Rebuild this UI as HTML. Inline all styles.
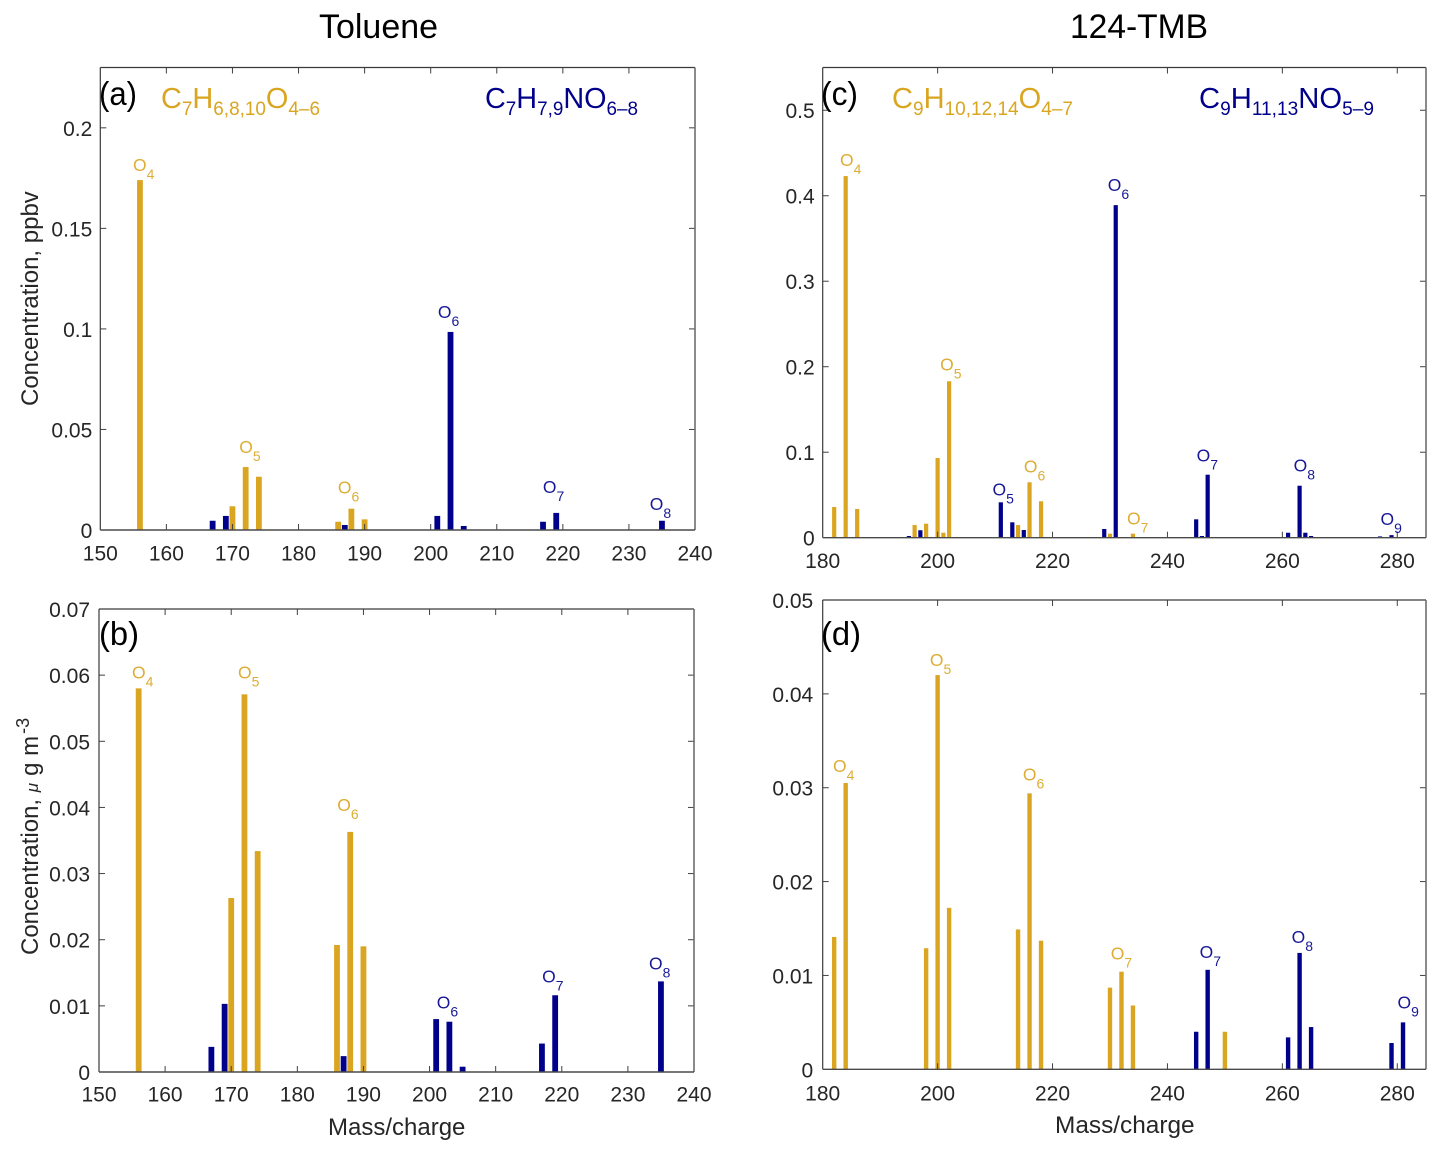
<!DOCTYPE html>
<html lang="en">
<head>
<meta charset="utf-8">
<title>Toluene and 124-TMB mass spectra</title>
<style>
html,body{margin:0;padding:0;background:#fff;width:1440px;height:1154px;overflow:hidden}
svg{display:block}
text{font-family:"Liberation Sans",sans-serif}
</style>
</head>
<body>
<svg id="figure" xmlns="http://www.w3.org/2000/svg" width="1440" height="1154" viewBox="0 0 1440 1154">
  <rect x="0" y="0" width="1440" height="1154" fill="#fff"/>
  <text x="319" y="38" font-size="34" fill="#000" textLength="119" lengthAdjust="spacingAndGlyphs">Toluene</text>
  <text x="1070" y="38" font-size="34" fill="#000" textLength="138" lengthAdjust="spacingAndGlyphs">124-TMB</text>

  <g id="panel-a"></g>
  <g id="panel-b"></g>
  <g id="panel-c"></g>
  <g id="panel-d"></g>

  <text x="99" y="105" font-size="33" fill="#000" textLength="38" lengthAdjust="spacingAndGlyphs">(a)</text>
  <text x="99" y="645" font-size="33" fill="#000" textLength="40" lengthAdjust="spacingAndGlyphs">(b)</text>
  <text x="821" y="105" font-size="33" fill="#000" textLength="37" lengthAdjust="spacingAndGlyphs">(c)</text>
  <text x="821" y="645" font-size="33" fill="#000" textLength="40" lengthAdjust="spacingAndGlyphs">(d)</text>

  <text x="161" y="108" font-size="29" fill="#DAA520" textLength="159" lengthAdjust="spacingAndGlyphs">C<tspan dy="7" font-size="19">7</tspan><tspan dy="-7">H</tspan><tspan dy="7" font-size="19">6,8,10</tspan><tspan dy="-7">O</tspan><tspan dy="7" font-size="19">4–6</tspan></text>
  <text x="485" y="108" font-size="29" fill="#00008B" textLength="153" lengthAdjust="spacingAndGlyphs">C<tspan dy="7" font-size="19">7</tspan><tspan dy="-7">H</tspan><tspan dy="7" font-size="19">7,9</tspan><tspan dy="-7">NO</tspan><tspan dy="7" font-size="19">6–8</tspan></text>
  <text x="892" y="108" font-size="29" fill="#DAA520" textLength="181" lengthAdjust="spacingAndGlyphs">C<tspan dy="7" font-size="19">9</tspan><tspan dy="-7">H</tspan><tspan dy="7" font-size="19">10,12,14</tspan><tspan dy="-7">O</tspan><tspan dy="7" font-size="19">4–7</tspan></text>
  <text x="1199" y="108" font-size="29" fill="#00008B" textLength="175" lengthAdjust="spacingAndGlyphs">C<tspan dy="7" font-size="19">9</tspan><tspan dy="-7">H</tspan><tspan dy="7" font-size="19">11,13</tspan><tspan dy="-7">NO</tspan><tspan dy="7" font-size="19">5–9</tspan></text>

  <text transform="translate(38,406) rotate(-90)" font-size="24" fill="#262626">Concentration, ppbv</text>
  <text transform="translate(38,955) rotate(-90)" font-size="24" fill="#262626">Concentration, <tspan font-size="17" font-style="italic">μ</tspan><tspan dx="7">g m</tspan><tspan font-size="18" dy="-9" dx="2">-3</tspan></text>
  <text x="328" y="1135" font-size="24" fill="#262626">Mass/charge</text>
  <text x="1055" y="1133" font-size="24.4" fill="#262626">Mass/charge</text>
</svg>
<script>
// Panel (a): toluene, ppbv
const aOrangeMz = [156, 170, 172, 174, 186, 188, 190];
const aOrangeVal = [0.174, 0.0118, 0.0313, 0.0265, 0.0041, 0.0106, 0.0053];
const aBlueMz = [167, 169, 187, 201, 203, 205, 217, 219, 235];
const aBlueVal = [0.0046, 0.0070, 0.0025, 0.0070, 0.0985, 0.0020, 0.0041, 0.0085, 0.0046];
const aXTicks = [150, 160, 170, 180, 190, 200, 210, 220, 230, 240];
const aYTicks = [0, 0.05, 0.1, 0.15, 0.2];
const aYLabels = ["0", "0.05", "0.1", "0.15", "0.2"];

// Panel (b): toluene, ug m-3
const bOrangeMz = [156, 170, 172, 174, 186, 188, 190];
const bOrangeVal = [0.058, 0.0263, 0.0571, 0.0334, 0.0192, 0.0363, 0.019];
const bBlueMz = [167, 169, 187, 201, 203, 205, 217, 219, 235];
const bBlueVal = [0.0038, 0.0103, 0.0024, 0.0080, 0.0076, 0.0008, 0.0043, 0.0116, 0.0137];
const bXTicks = [150, 160, 170, 180, 190, 200, 210, 220, 230, 240];
const bYTicks = [0, 0.01, 0.02, 0.03, 0.04, 0.05, 0.06, 0.07];
const bYLabels = ["0", "0.01", "0.02", "0.03", "0.04", "0.05", "0.06", "0.07"];

// Panel (c): 124-TMB, ppbv
const cOrangeMz = [182, 184, 186, 196, 198, 200, 201, 202, 214, 216, 218, 230, 234];
const cOrangeVal = [0.0359, 0.423, 0.0336, 0.0148, 0.0164, 0.0932, 0.0058, 0.183, 0.0148, 0.0648, 0.0426, 0.0047, 0.0047];
const cBlueMz = [195, 197, 211, 213, 215, 229, 231, 245, 246, 247, 261, 263, 264, 265, 277, 279];
const cBlueVal = [0.002, 0.0087, 0.0414, 0.018, 0.009, 0.0102, 0.389, 0.0215, 0.002, 0.0737, 0.0058, 0.0608, 0.0058, 0.002, 0.0015, 0.003];
const cXTicks = [180, 200, 220, 240, 260, 280];
const cYTicks = [0, 0.1, 0.2, 0.3, 0.4, 0.5];
const cYLabels = ["0", "0.1", "0.2", "0.3", "0.4", "0.5"];

// Panel (d): 124-TMB, ug m-3
const dOrangeMz = [182, 184, 198, 200, 202, 214, 216, 218, 230, 232, 234, 250];
const dOrangeVal = [0.0141, 0.0305, 0.0129, 0.042, 0.0172, 0.0149, 0.0294, 0.0137, 0.0087, 0.0104, 0.0068, 0.004];
const dBlueMz = [245, 247, 261, 263, 265, 279, 281];
const dBlueVal = [0.004, 0.0106, 0.0034, 0.0124, 0.0045, 0.0028, 0.005];
const dXTicks = [180, 200, 220, 240, 260, 280];
const dYTicks = [0, 0.01, 0.02, 0.03, 0.04, 0.05];
const dYLabels = ["0", "0.01", "0.02", "0.03", "0.04", "0.05"];

const SVG_NS = "http://www.w3.org/2000/svg";
const ORANGE = "#DAA520";
const BLUE = "#00008B";

function svgEl(tag, attrs, parent) {
  const el = document.createElementNS(SVG_NS, tag);
  for (const k in attrs) el.setAttribute(k, attrs[k]);
  parent.appendChild(el);
  return el;
}

function makePanel(id, box, xMin, xMax, yMax, barWidth, xLabelY, yLabelGap) {
  const group = document.getElementById("panel-" + id);
  const xScale = function (v) { return box.left + (v - xMin) / (xMax - xMin) * (box.right - box.left); };
  const yScale = function (v) { return box.bottom - v / yMax * (box.bottom - box.top); };
  return { id: id, group: group, box: box, xScale: xScale, yScale: yScale, barWidth: barWidth, xLabelY: xLabelY, yLabelGap: yLabelGap };
}

function drawBars(p, mzs, vals, color, seriesName) {
  mzs.forEach(function (mz, i) {
    const top = p.yScale(vals[i]);
    const bar = svgEl("rect", {
      x: p.xScale(mz) - p.barWidth / 2,
      y: top,
      width: p.barWidth,
      height: p.box.bottom - top,
      fill: color
    }, p.group);
    
    
  });
}

function drawAxes(p, xTicks, yTicks, yLabels) {
  const b = p.box;
  const tickLen = 6;
  xTicks.forEach(function (t) {
    const x = p.xScale(t);
    if (t !== xTicks[0] && x < b.right - 1) {
      const tb = svgEl("line", { x1: x, x2: x, y1: b.bottom, y2: b.bottom - tickLen, stroke: "#404040", "stroke-width": 1 }, p.group);
      
      
      const tt = svgEl("line", { x1: x, x2: x, y1: b.top, y2: b.top + tickLen, stroke: "#404040", "stroke-width": 1 }, p.group);
      
      
    }
    const label = svgEl("text", { x: x, y: p.xLabelY, "font-size": 21, fill: "#262626", "text-anchor": "middle" }, p.group);
    label.textContent = String(t);
    
    
  });
  yTicks.forEach(function (t, i) {
    const y = p.yScale(t);
    if (t !== 0 && y > b.top + 1) {
      const tl = svgEl("line", { x1: b.left, x2: b.left + tickLen, y1: y, y2: y, stroke: "#404040", "stroke-width": 1 }, p.group);
      
      
      const tr = svgEl("line", { x1: b.right, x2: b.right - tickLen, y1: y, y2: y, stroke: "#404040", "stroke-width": 1 }, p.group);
      
      
    }
    const label = svgEl("text", { x: b.left - p.yLabelGap, y: y + 8, "font-size": 21, fill: "#262626", "text-anchor": "end" }, p.group);
    label.textContent = yLabels[i];
    
    
  });
  const frame = [
    ["axis-line-left", b.left, b.top, b.left, b.bottom, "#3a3a3a", 1.2],
    ["axis-line-top", b.left, b.top, b.right, b.top, "#3a3a3a", 1.2],
    ["axis-line-right", b.right, b.top, b.right, b.bottom, "#6e6e6e", 1.6],
    ["axis-line-bottom", b.left, b.bottom, b.right, b.bottom, "#4a4a4a", 1.4]
  ];
  frame.forEach(function (f) {
    const line = svgEl("line", { x1: f[1], y1: f[2], x2: f[3], y2: f[4], stroke: f[5], "stroke-width": f[6] }, p.group);
    
    
  });
}

// Labels follow their peak: anchored to the bar top, offset in screen pixels.
function peakLabel(p, mzs, vals, mz, sub, color, dx, dy) {
  const v = vals[mzs.indexOf(mz)];
  const x = p.xScale(mz) + dx;
  const y = p.yScale(v) + dy;
  const txt = svgEl("text", { x: x, y: y, "font-size": 17.5, fill: color, opacity: 0.9 }, p.group);
  txt.textContent = "O";
  const s = svgEl("tspan", { dy: 8, "font-size": 14 }, txt);
  s.textContent = sub;
  
  
}

const panelA = makePanel("a", { left: 100.3, right: 695, top: 67.5, bottom: 530 }, 150, 240, 0.23, 5.8, 560.5, 8);
const panelB = makePanel("b", { left: 99, right: 694, top: 609, bottom: 1072 }, 150, 240, 0.07, 5.8, 1101.5, 9);
const panelC = makePanel("c", { left: 822.7, right: 1426, top: 67.5, bottom: 537.7 }, 180, 285, 0.55, 4.2, 568, 8);
const panelD = makePanel("d", { left: 822.7, right: 1426, top: 600, bottom: 1069.3 }, 180, 285, 0.05, 4.4, 1100.5, 9.5);

drawBars(panelA, aOrangeMz, aOrangeVal, ORANGE, "cho");
drawBars(panelA, aBlueMz, aBlueVal, BLUE, "chon");
drawAxes(panelA, aXTicks, aYTicks, aYLabels);
peakLabel(panelA, aOrangeMz, aOrangeVal, 156, "4", ORANGE, -7, -9);
peakLabel(panelA, aOrangeMz, aOrangeVal, 172, "5", ORANGE, -6.4, -14);
peakLabel(panelA, aOrangeMz, aOrangeVal, 188, "6", ORANGE, -13.5, -15);
peakLabel(panelA, aBlueMz, aBlueVal, 203, "6", BLUE, -12.6, -14);
peakLabel(panelA, aBlueMz, aBlueVal, 219, "7", BLUE, -13.4, -20);
peakLabel(panelA, aBlueMz, aBlueVal, 235, "8", BLUE, -12.2, -11);

drawBars(panelB, bOrangeMz, bOrangeVal, ORANGE, "cho");
drawBars(panelB, bBlueMz, bBlueVal, BLUE, "chon");
drawAxes(panelB, bXTicks, bYTicks, bYLabels);
peakLabel(panelB, bOrangeMz, bOrangeVal, 156, "4", ORANGE, -6.7, -10);
peakLabel(panelB, bOrangeMz, bOrangeVal, 172, "5", ORANGE, -6.4, -16);
peakLabel(panelB, bOrangeMz, bOrangeVal, 188, "6", ORANGE, -13, -21);
peakLabel(panelB, bBlueMz, bBlueVal, 203, "6", BLUE, -12.6, -13);
peakLabel(panelB, bBlueMz, bBlueVal, 219, "7", BLUE, -13, -13);
peakLabel(panelB, bBlueMz, bBlueVal, 235, "8", BLUE, -12, -12);

drawBars(panelC, cOrangeMz, cOrangeVal, ORANGE, "cho");
drawBars(panelC, cBlueMz, cBlueVal, BLUE, "chon");
drawAxes(panelC, cXTicks, cYTicks, cYLabels);
peakLabel(panelC, cOrangeMz, cOrangeVal, 184, "4", ORANGE, -5.7, -10);
peakLabel(panelC, cOrangeMz, cOrangeVal, 202, "5", ORANGE, -9, -11);
peakLabel(panelC, cOrangeMz, cOrangeVal, 216, "6", ORANGE, -5.7, -10);
peakLabel(panelC, cOrangeMz, cOrangeVal, 234, "7", ORANGE, -6, -9);
peakLabel(panelC, cBlueMz, cBlueVal, 211, "5", BLUE, -8.3, -7);
peakLabel(panelC, cBlueMz, cBlueVal, 231, "6", BLUE, -8, -14);
peakLabel(panelC, cBlueMz, cBlueVal, 247, "7", BLUE, -11, -13);
peakLabel(panelC, cBlueMz, cBlueVal, 263, "8", BLUE, -6, -14);
peakLabel(panelC, cBlueMz, cBlueVal, 279, "9", BLUE, -11, -10);

drawBars(panelD, dOrangeMz, dOrangeVal, ORANGE, "cho");
drawBars(panelD, dBlueMz, dBlueVal, BLUE, "chon");
drawAxes(panelD, dXTicks, dYTicks, dYLabels);
peakLabel(panelD, dOrangeMz, dOrangeVal, 184, "4", ORANGE, -12.7, -11);
peakLabel(panelD, dOrangeMz, dOrangeVal, 200, "5", ORANGE, -7.7, -9);
peakLabel(panelD, dOrangeMz, dOrangeVal, 216, "6", ORANGE, -6.7, -13);
peakLabel(panelD, dOrangeMz, dOrangeVal, 232, "7", ORANGE, -10.7, -12);
peakLabel(panelD, dBlueMz, dBlueVal, 247, "7", BLUE, -8, -12);
peakLabel(panelD, dBlueMz, dBlueVal, 263, "8", BLUE, -8, -10);
peakLabel(panelD, dBlueMz, dBlueVal, 281, "9", BLUE, -5.5, -14);
</script>
</body>
</html>
